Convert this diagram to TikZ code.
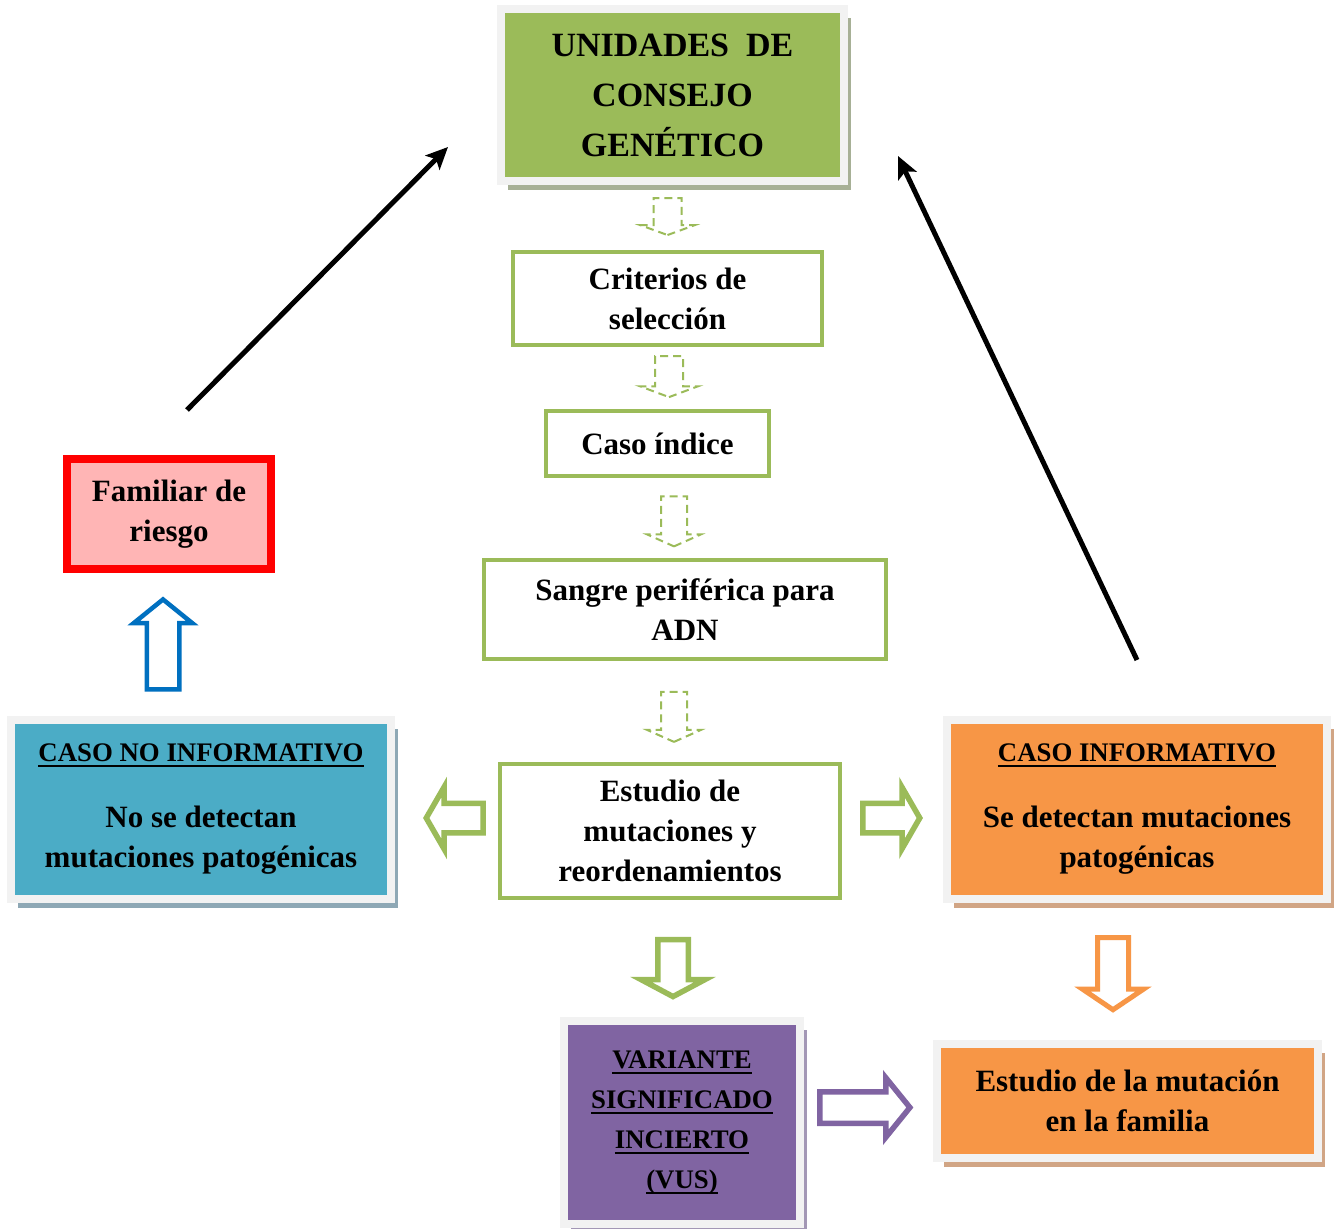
\documentclass[tikz,border=0pt]{standalone}
\usepackage{fontspec}
\setmainfont{Liberation Serif}
\usetikzlibrary{arrows.meta,shapes.arrows,shadows}
\definecolor{verde}{HTML}{9BBB59}
\definecolor{azul}{HTML}{4BACC6}
\definecolor{naranja}{HTML}{F79646}
\definecolor{morado}{HTML}{8064A2}
\definecolor{rosa}{HTML}{FFB5B5}
\definecolor{azulfuerte}{HTML}{0070C0}
\definecolor{marco}{HTML}{F2F2F2}
\definecolor{sombraverde}{HTML}{A7B096}
\definecolor{sombraazul}{HTML}{8EA8B5}
\definecolor{sombranaranja}{HTML}{D1A585}
\definecolor{sombramorado}{HTML}{A397B5}
\newcommand{\cuerpo}{\bfseries\fontsize{15.5}{20}\selectfont}
\newcommand{\titular}{\bfseries\fontsize{17}{25}\selectfont}
\newcommand{\rotulo}{\bfseries\fontsize{13.4}{20}\selectfont}
\newcommand{\subr}[1]{\setbox0\hbox{#1}\rlap{\rule[-2.6pt]{\wd0}{0.9pt}}\box0}
\tikzstyle{caja} = [draw=verde, line width=2pt, fill=white, align=center,
  inner sep=0pt, font=\cuerpo]
\tikzstyle{marcada} = [draw=marco, line width=4pt, align=center,
  inner sep=0pt, font=\cuerpo]
\tikzstyle{sombra} = [shadow xshift=3.5pt, shadow yshift=-4.5pt, opacity=1]
\tikzstyle{punteada} = [single arrow, draw=verde, line width=1pt,
  dash pattern=on 4pt off 2.5pt, inner xsep=0pt, rotate=-90]
\tikzstyle{hueca} = [single arrow, fill=white, line width=2.75pt, inner xsep=0pt]
\tikzstyle{flechanegra} = [line width=2.5pt, -{Stealth[length=11pt,width=10pt,inset=2.5pt]}]

\begin{document}
\begin{tikzpicture}[x=0.5pt, y=-0.5pt]
    \path[use as bounding box, fill=white] (0,0) rectangle (1338,1229);
    % columna central
    \node[marcada, fill=verde, font=\titular, minimum width=171.5pt, minimum height=86pt,
        drop shadow={sombra, fill=sombraverde}] (unidades) at (672.5,95.5)
        {UNIDADES~~DE\\CONSEJO\\GENÉTICO};
    \node[caja, minimum width=154.5pt, minimum height=46.5pt] (criterios) at (667.5,298.5)
        {Criterios de\\selección};
    \node[caja, minimum width=111.5pt, minimum height=32.5pt] (indice) at (657.5,443.5)
        {Caso índice};
    \node[caja, minimum width=201pt, minimum height=49.5pt] (sangre) at (685,609.5)
        {Sangre periférica para\\ADN};
    \node[caja, minimum width=170pt, minimum height=67pt] (estudio) at (670,831)
        {Estudio de\\mutaciones y\\reordenamientos};
    \node[punteada, minimum height=18.5pt, inner ysep=6.5pt, single arrow head extend=6.5pt,
        single arrow tip angle=140] (p1) at (667.5,214) {};
    \node[punteada, minimum height=20.5pt, inner ysep=6.5pt, single arrow head extend=7.5pt,
        single arrow tip angle=139] (p2) at (669,374) {};
    \node[punteada, minimum height=25pt, inner ysep=6pt, single arrow head extend=7pt,
        single arrow tip angle=132] (p3) at (674,518.5) {};
    \node[punteada, minimum height=25pt, inner ysep=6pt, single arrow head extend=7pt,
        single arrow tip angle=132] (p4) at (674,714) {};
    % resultados
    \node[marcada, fill=azul, minimum width=190pt, minimum height=89.5pt,
        drop shadow={sombra, fill=sombraazul}] (casono) at (201,809.5)
        {{\rotulo\subr{CASO NO INFORMATIVO}}\\[13pt]No se detectan\\mutaciones patogénicas};
    \node[marcada, fill=naranja, minimum width=190pt, minimum height=89.5pt,
        drop shadow={sombra, fill=sombranaranja}] (casosi) at (1137,809.5)
        {{\rotulo\subr{CASO INFORMATIVO}}\\[13pt]Se detectan mutaciones\\patogénicas};
    \node[marcada, fill=morado, font=\rotulo, minimum width=118pt, minimum height=101.5pt,
        drop shadow={sombra, fill=sombramorado}] (vus) at (682,1122.5)
        {\subr{VARIANTE}\\\subr{SIGNIFICADO}\\\subr{INCIERTO}\\\subr{(VUS)}};
    \node[marcada, fill=naranja, minimum width=190.5pt, minimum height=57pt,
        drop shadow={sombra, fill=sombranaranja}] (mutfam) at (1127.5,1101)
        {Estudio de la mutación\\en la familia};
    \node[draw=red, line width=4pt, fill=rosa, align=center, inner sep=0pt, font=\cuerpo,
        minimum width=102pt, minimum height=55pt] (familiar) at (169,514)
        {Familiar de\\riesgo};
    % flechas huecas
    \node[hueca, draw=verde, rotate=180, minimum height=28.5pt, inner ysep=6pt,
        single arrow head extend=8pt, single arrow tip angle=120] (haciano) at (459,818) {};
    \node[hueca, draw=verde, minimum height=28.5pt, inner ysep=6pt,
        single arrow head extend=8pt, single arrow tip angle=120] (haciasi) at (887,818) {};
    \node[hueca, draw=verde, rotate=-90, minimum height=28.5pt, inner ysep=6.25pt,
        single arrow head extend=8.25pt, single arrow tip angle=124] (haciavus) at (673,964) {};
    \node[hueca, draw=naranja, rotate=-90, line width=2.5pt, minimum height=36pt, inner ysep=6.5pt,
        single arrow head extend=7.5pt, single arrow tip angle=112] (haciafam) at (1113,968.5) {};
    \node[hueca, draw=azulfuerte, rotate=90, line width=2.25pt, minimum height=45pt, inner ysep=7pt,
        single arrow head extend=6.5pt, single arrow tip angle=102] (haciariesgo) at (163,651) {};
    \node[hueca, draw=morado, minimum height=45pt, inner ysep=6.5pt,
        single arrow head extend=7pt, single arrow tip angle=102] (vusfam) at (858.5,1107.5) {};
    % vuelta a las unidades
    \coordinate (desderiesgo) at (187,410);
    \coordinate (llegaizq) at (448,147);
    \coordinate (desdesi) at (1137,660);
    \coordinate (llegader) at (898,156);
    \draw[flechanegra] (desderiesgo) -- (llegaizq);
    \draw[flechanegra] (desdesi) -- (llegader);
\end{tikzpicture}
\end{document}
